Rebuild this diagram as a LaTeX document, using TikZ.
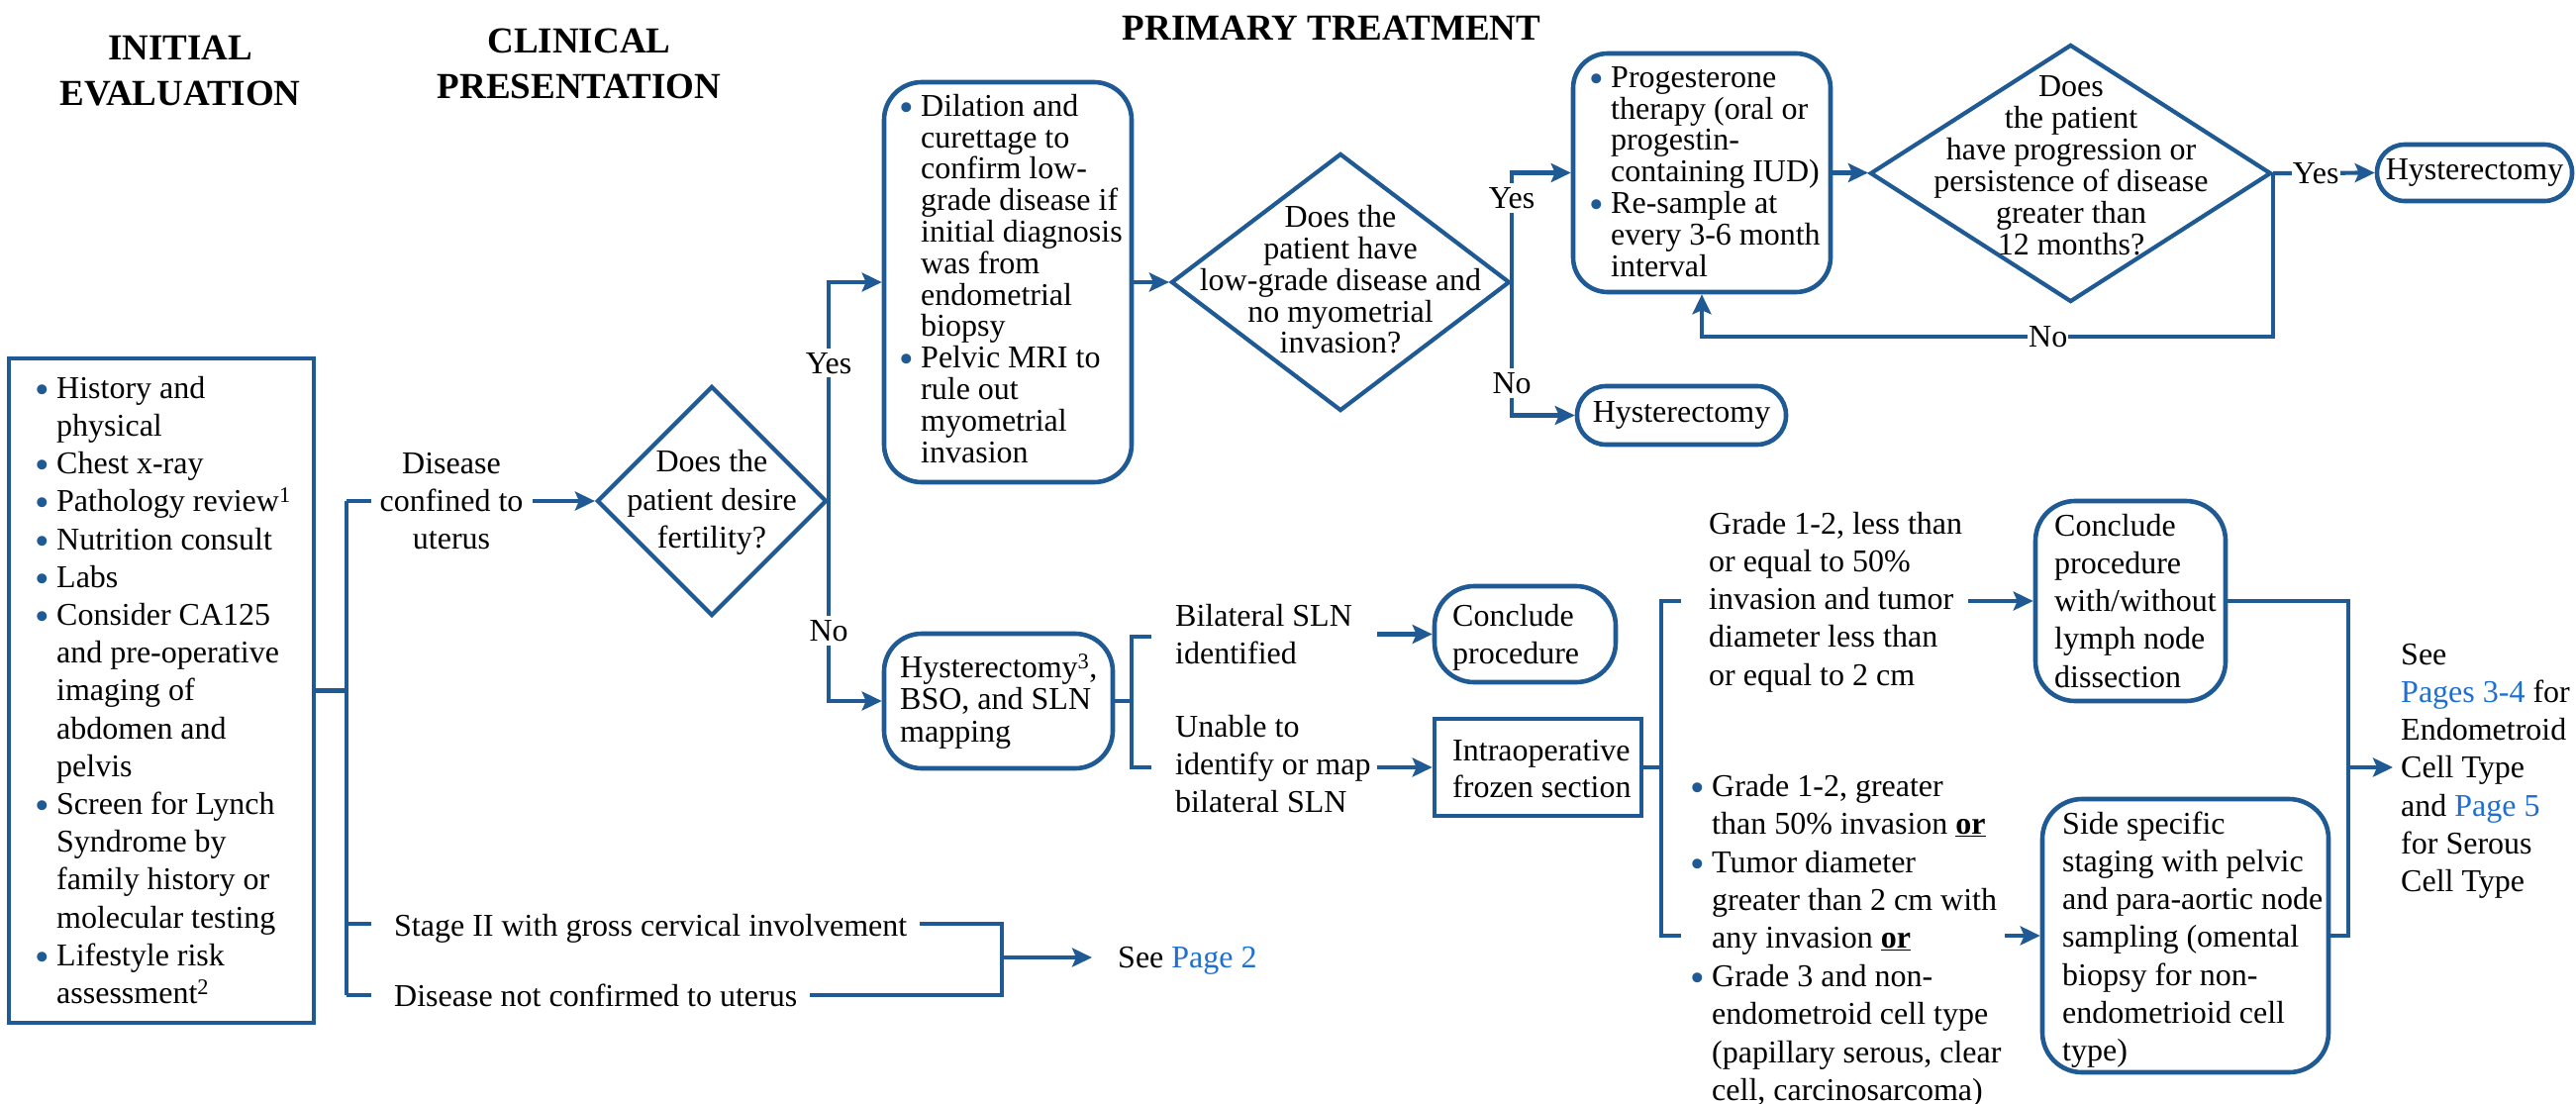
\documentclass[tikz,border=0pt]{standalone}
\usepackage{fontspec}
\setmainfont{Liberation Serif}
\usetikzlibrary{arrows.meta,shapes.geometric,calc}
\definecolor{mb}{RGB}{31,90,148}
\definecolor{lk}{RGB}{31,111,209}
\newcommand\fnA{\fontsize{32}{38.2}\selectfont}
\newcommand\fnB{\fontsize{32}{31.8}\selectfont}
\newcommand\fnC{\fontsize{32}{32}\selectfont}
\newcommand\fnD{\fontsize{32}{32.5}\selectfont}
\newcommand\fnE{\fontsize{32}{37}\selectfont}
\newcommand\fnG{\fontsize{32}{38.4}\selectfont}
\newcommand\fnH{\fontsize{37}{46}\selectfont\bfseries}
\newcommand\bul{\makebox[18pt][l]{\hspace*{-4pt}\textcolor{mb}{\raisebox{-5pt}{\scalebox{1.3}{\textbullet}}}}}
\newcommand\indt{\makebox[18pt]{}}
\tikzset{
  ln/.style={draw=mb, line width=4.2pt},
  arr/.style={ln, -{Stealth[length=20pt,width=19pt,inset=4pt]}},
  bx/.style={draw=mb, line width=4.6pt, inner sep=0pt},
  rbx/.style={bx, rectangle, rounded corners=38pt},
  dia/.style={bx, diamond, line width=4.2pt, aspect=1},
  txt/.style={inner sep=0pt, align=left, anchor=north west},
  ctxt/.style={inner sep=0pt, align=center},
  lab/.style={fill=white, font=\fnA, inner xsep=2pt, inner ysep=4pt},
  hdr/.style={font=\fnH, inner sep=0pt, align=center}
}
\begin{document}
\begin{tikzpicture}[x=1pt,y=-1pt]
\fill[white] (0,0) rectangle (2602,1114);
\useasboundingbox (0,0) rectangle (2602,1114);

% headers
\node[hdr, anchor=north] (hInit) at (182,27.8) {\strut INITIAL\\EVALUATION};
\node[hdr, anchor=north] (hClin) at (585,20.8) {\strut CLINICAL\\PRESENTATION};
\node[hdr, anchor=base] (hPrim) at (1345,40) {PRIMARY TREATMENT};

% initial evaluation box
\node[bx, rectangle, minimum width=308pt, minimum height=671pt] (init) at (163,697.5) {};
\node[txt, font=\fnA] (initT) at (39,375.3) {\strut\bul History and\\
\indt physical\\
\bul Chest x-ray\\
\bul Pathology review\textsuperscript{1}\\
\bul Nutrition consult\\
\bul Labs\\
\bul Consider CA125\\
\indt and pre-operative\\
\indt imaging of\\
\indt abdomen and\\
\indt pelvis\\
\bul Screen for Lynch\\
\indt Syndrome by\\
\indt family history or\\
\indt molecular testing\\
\bul Lifestyle risk\\
\indt assessment\textsuperscript{2}};

% left bracket
\coordinate (j0) at (350,697.5);
\coordinate (jA) at (350,506);
\coordinate (jB) at (350,933);
\coordinate (jC) at (350,1005);
\draw[ln] (init.east) -- (j0);
\draw[ln] (jA) -- (jC);

\node[ctxt, font=\fnA, anchor=north] (dconf) at (456,451.3) {\strut Disease\\confined to\\uterus\strut};
\draw[ln] (jA) -- ($(jA -| dconf.west)+(-8,0)$);

% diamond 1
\node[dia, minimum width=232pt, minimum height=232pt] (d1) at (719,506) {};
\node[ctxt, font=\fnA] (d1T) at (719,507.4) {\strut Does the\\patient desire\\fertility?\strut};
\draw[arr] ($(d1.west -| dconf.east)+(9,0)$) -- (d1.west);

% D&C box
\node[rbx, minimum width=250pt, minimum height=404pt] (dc) at (1018,285) {};
\node[txt, font=\fnB] (dcT) at (912,94.74) {\strut\bul Dilation and\\
\indt curettage to\\
\indt confirm low-\\
\indt grade disease if\\
\indt initial diagnosis\\
\indt was from\\
\indt endometrial\\
\indt biopsy\\
\bul Pelvic MRI to\\
\indt rule out\\
\indt myometrial\\
\indt invasion};

% BSO box
\node[rbx, minimum width=231pt, minimum height=136pt] (bso) at (1008.5,708) {};
\node[txt, font=\fnD] (bsoT) at (909,660.25) {\strut Hysterectomy\textsuperscript{3},\\BSO, and SLN\\mapping};

\draw[arr] (d1.east) |- node[pos=0.315, lab] (yes1) {Yes} (dc.west);
\draw[arr] (d1.east) |- node[pos=0.324, lab] (no1) {No} (bso.west);

% diamond 2
\node[dia, minimum width=342pt, minimum height=260pt] (d2) at (1354,285) {};
\node[ctxt, font=\fnB] (d2T) at (1354,287) {\strut Does the\\patient have\\low-grade disease and\\no myometrial\\invasion?\strut};
\draw[arr] (dc.east) -- (d2.west);

% progesterone box
\node[rbx, rounded corners=35pt, minimum width=260pt, minimum height=241pt] (prog) at (1719,174.5) {};
\node[txt, font=\fnB] (progT) at (1609,65.74) {\strut\bul Progesterone\\
\indt therapy (oral or\\
\indt progestin-\\
\indt containing IUD)\\
\bul Re-sample at\\
\indt every 3-6 month\\
\indt interval};

% hysterectomy 2
\node[rbx, rounded corners=29pt, minimum width=211pt, minimum height=59pt, font=\fnA] (hy2) at (1698.5,419.5) {Hysterectomy};

\draw[arr] (d2.east) |- node[pos=0.385, lab] (yes2) {Yes} (prog.west);
\draw[arr] (d2.east) |- node[pos=0.379, lab] (no2) {No} (hy2.west);

% diamond 3
\node[dia, minimum width=405pt, minimum height=260pt] (d3) at (2091.5,175) {};
\node[ctxt, font=\fnC] (d3T) at (2092,170.6) {\strut Does\\the patient\\have progression or\\persistence of disease\\greater than\\12 months?\strut};
\draw[arr] (prog.east) -- (prog.east -| d3.west);

% hysterectomy 3
\node[rbx, rounded corners=28pt, minimum width=197pt, minimum height=57pt, font=\fnA] (hy3) at (2499.5,174.5) {Hysterectomy};
\draw[arr] (d3.east) -- node[pos=0.42, lab, inner xsep=1pt] (yes3) {Yes} (hy3.west);
\coordinate (nl) at (2294,340);
\draw[arr] (d3.east) -- (d3.east |- nl) -| node[pos=0.197, lab, inner xsep=1pt] (no3) {No} (prog.south);

% right bracket from BSO
\coordinate (k0) at (1143,708);
\coordinate (kA) at (1143,643);
\coordinate (kB) at (1143,775);
\coordinate (sA) at (1163,643);
\coordinate (sB) at (1163,775);
\draw[ln] (bso.east) -- (k0);
\draw[ln] (sA) -- (kA) -- (kB) -- (sB);

\node[txt, font=\fnA] (bsln) at (1187,605.26) {\strut Bilateral SLN\\identified};
\node[txt, font=\fnA] (unable) at (1187,717.26) {\strut Unable to\\identify or map\\bilateral SLN};

% conclude procedure
\node[rbx, rounded corners=40pt, minimum width=183pt, minimum height=97pt] (conc1) at (1540.5,640.5) {};
\node[txt, font=\fnA] (conc1T) at (1467,605.26) {\strut Conclude\\procedure};
\coordinate (aA) at (1391,640.5);
\draw[arr] (aA) -- (conc1.west);

% intraoperative
\node[bx, rectangle, minimum width=209pt, minimum height=98pt] (intra) at (1553.5,775) {};
\node[txt, font=\fnE] (intraT) at (1467,742.1) {\strut Intraoperative\\frozen section};
\coordinate (aB) at (1391,775);
\draw[arr] (aB) -- (intra.west);

% bracket from intraop
\coordinate (m0) at (1678,775);
\coordinate (mA) at (1678,607);
\coordinate (mB) at (1678,945);
\coordinate (tA) at (1698,607);
\coordinate (tB) at (1698,945);
\draw[ln] (intra.east) -- (m0);
\draw[ln] (tA) -- (mA) -- (mB) -- (tB);

\node[txt, font=\fnA] (gT) at (1726,512.26) {\strut Grade 1-2, less than\\or equal to 50\%\\invasion and tumor\\diameter less than\\or equal to 2 cm};
\node[txt, font=\fnG] (gB) at (1711,777.12) {\strut\bul Grade 1-2, greater\\
\indt than 50\% invasion \underline{\textbf{or}}\\
\bul Tumor diameter\\
\indt greater than 2 cm with\\
\indt any invasion \underline{\textbf{or}}\\
\bul Grade 3 and non-\\
\indt endometroid cell type\\
\indt (papillary serous, clear\\
\indt cell, carcinosarcoma)};

% conclude 2
\node[rbx, rounded corners=40pt, minimum width=192pt, minimum height=202pt] (conc2) at (2152,607) {};
\node[txt, font=\fnA] (conc2T) at (2075,514.26) {\strut Conclude\\procedure\\with/without\\lymph node\\dissection};
\coordinate (aC) at (1988,607);
\draw[arr] (aC) -- (conc2.west);

% side specific
\node[rbx, rounded corners=40pt, minimum width=289pt, minimum height=276pt] (side) at (2207.5,945) {};
\node[txt, font=\fnA] (sideT) at (2083,815.26) {\strut Side specific\\staging with pelvic\\and para-aortic node\\sampling (omental\\biopsy for non-\\endometrioid cell\\type)};
\coordinate (aD) at (2025,945);
\draw[arr] (aD) -- (side.west);

% right bracket and See pages
\coordinate (rA) at (2372,607);
\coordinate (rB) at (2372,945);
\coordinate (rM) at (2372,775);
\draw[ln] (conc2.east) -- (rA) -- (rB) -- (side.east);
\node[txt, font=\fnA] (seeT) at (2425,644.26) {\strut See\\\textcolor{lk}{Pages 3-4} for\\Endometroid\\Cell Type\\and \textcolor{lk}{Page 5}\\for Serous\\Cell Type};
\draw[arr] (rM) -- ($(seeT.west |- rM)+(-8,0)$);

% bottom left
\node[font=\fnA, inner sep=0pt, anchor=base west] (st) at (398,945) {Stage II with gross cervical involvement};
\node[font=\fnA, inner sep=0pt, anchor=base west] (dn) at (398,1016) {Disease not confirmed to uterus};
\draw[ln] (jB) -- ($(jB -| st.west)+(-23,0)$);
\draw[ln] (jC) -- ($(jC -| dn.west)+(-23,0)$);
\coordinate (q1) at (1012,933);
\coordinate (q2) at (1012,1005);
\coordinate (qm) at (1012,967);
\draw[ln] ($(q1 -| st.east)+(13,0)$) -- (q1) -- (q2) -- ($(q2 -| dn.east)+(13,0)$);
\node[font=\fnA, inner sep=0pt, anchor=base west] (p2) at (1129,977) {See \textcolor{lk}{Page 2}};
\draw[arr] (qm) -- ($(qm -| p2.west)+(-26,0)$);
\end{tikzpicture}
\end{document}
